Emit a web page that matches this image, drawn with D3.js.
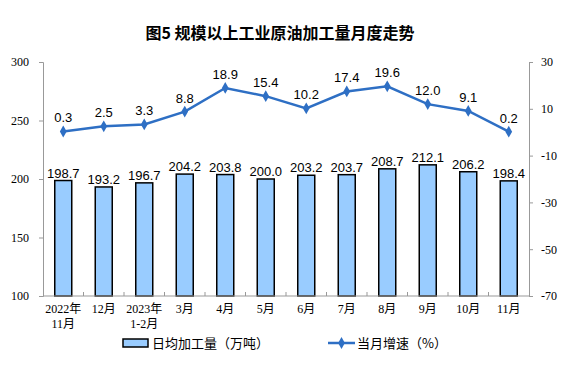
<!DOCTYPE html>
<html>
<head>
<meta charset="utf-8">
<script src="https://cdn.jsdelivr.net/npm/d3@7"></script>
<style>
  body { margin: 0; background: #fff; }
  text { fill: #000; }
</style>
</head>
<body>
<div id="viz"></div>
<script>
// categories and values
var months = ["2022年\n11月", "12月", "2023年\n1-2月", "3月", "4月", "5月", "6月", "7月", "8月", "9月", "10月", "11月"];
var output = [198.7, 193.2, 196.7, 204.2, 203.8, 200.0, 203.2, 203.7, 208.7, 212.1, 206.2, 198.4];
var growth = [0.3, 2.5, 3.3, 8.8, 18.9, 15.4, 10.2, 17.4, 19.6, 12.0, 9.1, 0.2];
var leftTicks = [100, 150, 200, 250, 300];
var rightTicks = [-70, -50, -30, -10, 10, 30];

var W = 580, H = 370;
var margin = {top: 62, right: 51, bottom: 74, left: 43};
var width = W - margin.left - margin.right,
    height = H - margin.top - margin.bottom;

var svg = d3.select("#viz").append("svg")
    .attr("width", W)
    .attr("height", H);

// title
svg.append("text")
    .attr("x", 280)
    .attr("y", 39)
    .attr("text-anchor", "middle")
    .style("font-family", "'Noto Sans CJK SC', sans-serif")
    .style("font-size", "16px")
    .style("font-weight", "bold")
    .text("图5 规模以上工业原油加工量月度走势");

var g = svg.append("g")
    .attr("transform", "translate(" + margin.left + "," + margin.top + ")");

var xScale = d3.scaleBand().domain(months).range([0, width]);
var yLeft = d3.scaleLinear().domain([100, 300]).range([height, 0]);
var yRight = d3.scaleLinear().domain([-70, 30]).range([height, 0]);

var tickFont = "'Liberation Serif', 'Noto Sans CJK SC', serif";
var plain = function(d) { return String(d); };   // keep the ascii hyphen for negatives

// left axis
var yAxisL = d3.axisLeft(yLeft).tickValues(leftTicks).tickFormat(plain).tickSize(4).tickPadding(10);
var gl = g.append("g").attr("class", "axis").call(yAxisL);
// right axis
var yAxisR = d3.axisRight(yRight).tickValues(rightTicks).tickFormat(plain).tickSize(4).tickPadding(8);
var gr = g.append("g").attr("class", "axis")
    .attr("transform", "translate(" + width + ",0)")
    .call(yAxisR);

[gl, gr].forEach(function(a) {
    a.selectAll("path, line").attr("stroke", "#999");
    a.selectAll("text")
        .style("font-family", tickFont)
        .style("font-size", "12px")
        .attr("fill", "#000");
});

// bars
g.selectAll("rect.bar")
    .data(output)
    .enter()
    .append("rect")
    .attr("class", "bar")
    .attr("x", function(d, i) { return xScale(months[i]) + xScale.bandwidth() / 2 - 8.5; })
    .attr("y", function(d) { return yLeft(d); })
    .attr("width", 17)
    .attr("height", function(d) { return height - yLeft(d); })
    .attr("fill", "#99CCFF")
    .attr("stroke", "#000")
    .attr("stroke-width", 1.5);

// bottom axis line and inner ticks between categories
g.append("line")
    .attr("x1", 0).attr("x2", width)
    .attr("y1", height).attr("y2", height)
    .attr("stroke", "#999");
g.selectAll("line.sep")
    .data(months.slice(1))
    .enter()
    .append("line")
    .attr("class", "sep")
    .attr("x1", function(d) { return xScale(d); })
    .attr("x2", function(d) { return xScale(d); })
    .attr("y1", height).attr("y2", height - 4)
    .attr("stroke", "#999");

// category labels
var cats = g.selectAll("text.cat")
    .data(months)
    .enter()
    .append("text")
    .attr("class", "cat")
    .attr("text-anchor", "middle")
    .style("font-family", tickFont)
    .style("font-size", "12px")
    .attr("transform", function(d) { return "translate(" + (xScale(d) + xScale.bandwidth() / 2) + "," + (height + 17) + ")"; });
cats.selectAll("tspan")
    .data(function(d) { return d.split("\n"); })
    .enter()
    .append("tspan")
    .attr("x", 0)
    .attr("dy", function(d, i) { return i ? 15 : 0; })
    .text(function(d) { return d; });

// bar labels
var labelFont = "'Liberation Sans', Arial, sans-serif";
g.selectAll("text.barlbl")
    .data(output)
    .enter()
    .append("text")
    .attr("class", "barlbl")
    .attr("text-anchor", "middle")
    .attr("x", function(d, i) { return xScale(months[i]) + xScale.bandwidth() / 2; })
    .attr("y", function(d) { return yLeft(d) - 3; })
    .style("font-family", labelFont)
    .style("font-size", "13px")
    .text(function(d) { return d.toFixed(1); });

// growth line
var lineColor = "#2E6FC4";
var line = d3.line()
    .x(function(d, i) { return xScale(months[i]) + xScale.bandwidth() / 2; })
    .y(function(d) { return yRight(d); });

g.append("path")
    .datum(growth)
    .attr("d", line)
    .attr("fill", "none")
    .attr("stroke", lineColor)
    .attr("stroke-width", 2.5);

var diamond = d3.symbol().type(d3.symbolDiamond).size(40);
g.selectAll("path.pt")
    .data(growth)
    .enter()
    .append("path")
    .attr("class", "pt")
    .attr("d", diamond)
    .attr("fill", lineColor)
    .attr("transform", function(d, i) {
        return "translate(" + (xScale(months[i]) + xScale.bandwidth() / 2) + "," + yRight(d) + ")";
    });

g.selectAll("text.ptlbl")
    .data(growth)
    .enter()
    .append("text")
    .attr("class", "ptlbl")
    .attr("text-anchor", "middle")
    .attr("x", function(d, i) { return xScale(months[i]) + xScale.bandwidth() / 2; })
    .attr("y", function(d) { return yRight(d) - 9; })
    .style("font-family", labelFont)
    .style("font-size", "13px")
    .text(function(d) { return d.toFixed(1); });

// legend
var lg = svg.append("g").attr("transform", "translate(0,343)");
lg.append("rect")
    .attr("x", 123).attr("y", -4)
    .attr("width", 25).attr("height", 8)
    .attr("fill", "#99CCFF")
    .attr("stroke", "#000")
    .attr("stroke-width", 1.5);
lg.append("text")
    .attr("x", 152).attr("y", 5)
    .style("font-family", "'Noto Sans CJK SC', sans-serif")
    .style("font-size", "13px")
    .text("日均加工量（万吨）");
lg.append("line")
    .attr("x1", 328).attr("x2", 355)
    .attr("y1", 0).attr("y2", 0)
    .attr("stroke", lineColor)
    .attr("stroke-width", 2.5);
lg.append("path")
    .attr("d", diamond)
    .attr("fill", lineColor)
    .attr("transform", "translate(341.5,0)");
lg.append("text")
    .attr("x", 357).attr("y", 5)
    .style("font-family", "'Noto Sans CJK SC', sans-serif")
    .style("font-size", "13px")
    .text("当月增速（%）");
</script>
</body>
</html>
